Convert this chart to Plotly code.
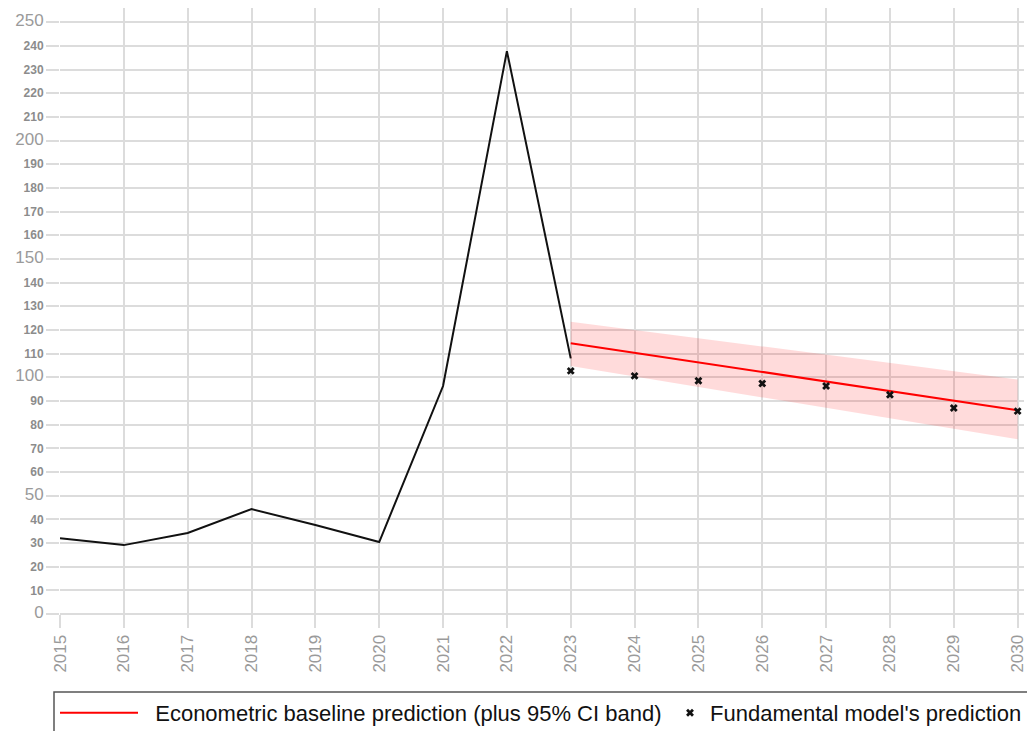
import plotly.graph_objects as go

# Historical series
years_hist = [2015, 2016, 2017, 2018, 2019, 2020, 2021, 2022, 2023]
values_hist = [32.0, 29.1, 34.2, 44.3, 37.6, 30.4, 96.3, 237.8, 108.0]

# Econometric baseline (straight trend) and its 95% CI band
years_base = [2023, 2030]
values_base = [114.4, 86.1]
ci_upper = [123.5, 99.1]
ci_lower = [104.8, 73.8]

# Fundamental model's prediction
years_fund = [2023, 2024, 2025, 2026, 2027, 2028, 2029, 2030]
values_fund = [102.7, 100.6, 98.5, 97.4, 96.3, 92.6, 87.0, 85.7]

# Axis ticks
x_ticks = list(range(2015, 2031))
y_ticks = list(range(0, 251, 10))
y_ticktext = [
    f'<span style="font-size:17px;color:#9a9a9a">{v}</span>' if v % 50 == 0 else f"<b>{v}</b>"
    for v in y_ticks
]

GRID = "#dcdcdc"
W, H = 1027, 731
M_L, M_R, M_T, M_B = 60, 3, 8, 117
PW, PH = W - M_L - M_R, H - M_T - M_B


def px_x(px):
    """Pixel column -> paper x."""
    return (px - M_L) / PW


def px_y(py):
    """Pixel row -> paper y."""
    return (H - M_B - py) / PH


fig = go.Figure()

fig.add_trace(go.Scatter(
    x=years_hist, y=values_hist, mode="lines",
    line=dict(color="#111111", width=2), showlegend=False, hoverinfo="skip",
))

# CI band as a closed polygon
fig.add_trace(go.Scatter(
    x=years_base + years_base[::-1],
    y=ci_upper + ci_lower[::-1],
    fill="toself", fillcolor="rgba(255,0,0,0.14)",
    line=dict(width=0), mode="lines", showlegend=False, hoverinfo="skip",
))

fig.add_trace(go.Scatter(
    x=years_base, y=values_base, mode="lines",
    line=dict(color="#ff0000", width=2),
    name="&nbsp;&nbsp;Econometric baseline prediction (plus 95% CI band)",
    legend="legend",
))

fig.add_trace(go.Scatter(
    x=years_fund, y=values_fund, mode="markers",
    marker=dict(symbol="x", size=7, color="#111111"),
    name="Fundamental model's prediction",
    legend="legend2",
))

legend_common = dict(
    orientation="h", yanchor="middle", y=px_y(713),
    font=dict(size=22, color="#111111"),
    bgcolor="rgba(0,0,0,0)", borderwidth=0,
)

fig.update_layout(
    width=W, height=H,
    margin=dict(l=M_L, r=M_R, t=M_T, b=M_B, autoexpand=False),
    plot_bgcolor="white", paper_bgcolor="white",
    font=dict(family="Liberation Sans, Arial, sans-serif"),
    xaxis=dict(
        range=[2015, 2030.1], tickmode="array", tickvals=x_ticks,
        tickangle=-90, tickfont=dict(size=17, color="#9a9a9a"),
        ticklabeloverflow="allow",
        showgrid=True, gridcolor=GRID, gridwidth=2,
        ticks="outside", ticklen=13, tickcolor=GRID, tickwidth=2,
        showline=False, zeroline=False,
    ),
    yaxis=dict(
        range=[0, 256], tickmode="array", tickvals=y_ticks, ticktext=y_ticktext,
        tickfont=dict(size=12, color="#8c8c8c"),
        showgrid=True, gridcolor=GRID, gridwidth=2,
        ticks="outside", ticklen=13, tickcolor=GRID, tickwidth=2,
        showline=False, zeroline=True, zerolinecolor=GRID, zerolinewidth=2,
    ),
    legend=dict(x=px_x(55), xanchor="left", itemwidth=78, **legend_common),
    legend2=dict(x=px_x(670), xanchor="left", itemwidth=30, **legend_common),
    shapes=[dict(
        type="rect", xref="paper", yref="paper",
        x0=px_x(54), x1=px_x(1040), y0=px_y(692), y1=px_y(745),
        line=dict(color="#555555", width=1.5), fillcolor="rgba(0,0,0,0)",
        layer="below",
    )],
)

fig.write_html("out.html")
